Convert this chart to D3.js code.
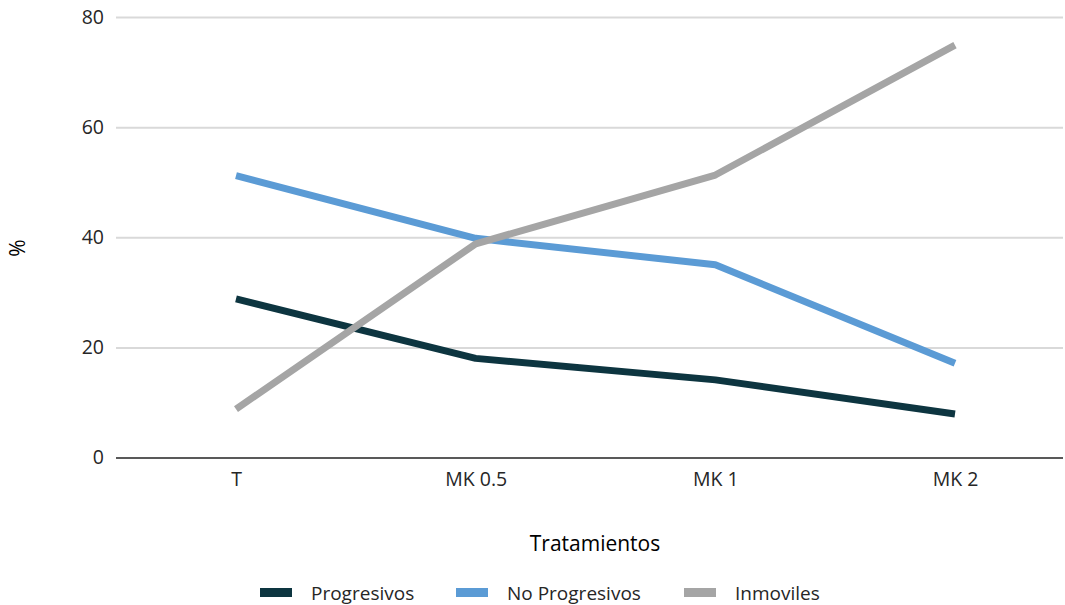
<!DOCTYPE html>
<html><head><meta charset="utf-8">
<script src="https://cdn.jsdelivr.net/npm/d3@7"></script>
<style>body{margin:0;background:#fff;} svg{display:block;}</style>
</head><body>
<script>
const categories = ["T", "MK 0.5", "MK 1", "MK 2"];
const progresivos = [28.8, 18.0, 14.1, 7.9];
const noProgresivos = [51.2, 39.8, 35.0, 17.1];
const inmoviles = [8.8, 38.8, 51.3, 74.9];
const yTicks = [0, 20, 40, 60, 80];
const seriesNames = ["Progresivos", "No Progresivos", "Inmoviles"];
const seriesColors = ["#0d3540", "#5b9bd5", "#a5a5a5"];
const seriesData = [progresivos, noProgresivos, inmoviles];

(function () {
const W = 1065, H = 605;
const svg = d3.select("body").append("svg").attr("width", W).attr("height", H);
const pLeft = 116, pRight = 1063, pTop = 17, pBottom = 457.5;

const x = d3.scalePoint().domain(categories).range([236, 955]);
const y = d3.scaleLinear().domain([0, 80]).range([pBottom, pTop]);
const font = "'Open Sans', sans-serif";

// gridlines
const yAxis = d3.axisLeft(y).tickValues(yTicks).tickSize(-(pRight - pLeft)).tickPadding(12);
const gy = svg.append("g").attr("transform", `translate(${pLeft},0)`).call(yAxis);
gy.select(".domain").remove();
gy.selectAll(".tick line").attr("stroke", "#d9d9d9").attr("stroke-width", 2);
gy.selectAll(".tick text").attr("font-family", font).attr("font-size", 19.5).attr("fill", "#262626");
gy.selectAll(".tick").filter(d => d === 0).select("line").attr("stroke", "#595959").attr("stroke-width", 2);

// x axis
const xAxis = d3.axisBottom(x).tickSize(0).tickPadding(15);
const gx = svg.append("g").attr("transform", `translate(0,${pBottom})`).call(xAxis);
gx.select(".domain").remove();
gx.selectAll(".tick text").attr("font-family", font).attr("font-size", 19.5).attr("fill", "#262626");

// lines
const line = d3.line().x((d, i) => x(categories[i])).y(d => y(d));
seriesData.forEach((s, k) => {
  svg.append("path").datum(s).attr("d", line).attr("fill", "none")
    .attr("stroke", seriesColors[k]).attr("stroke-width", 7).attr("stroke-linejoin", "round");
});

// axis titles
svg.append("text").attr("transform", "translate(25,248) rotate(-90)").attr("text-anchor", "middle")
  .attr("font-family", font).attr("font-size", 21).attr("fill", "#000").text("%");
svg.append("text").attr("x", 595).attr("y", 551).attr("text-anchor", "middle")
  .attr("font-family", font).attr("font-size", 21).attr("fill", "#000").text("Tratamientos");

// legend
const legendX = [260, 456, 684];
const lg = svg.append("g");
seriesNames.forEach((n, k) => {
  lg.append("rect").attr("x", legendX[k]).attr("y", 588).attr("width", 32).attr("height", 9).attr("fill", seriesColors[k]);
  lg.append("text").attr("x", legendX[k] + 51).attr("y", 600).attr("font-family", font).attr("font-size", 19)
    .attr("fill", "#262626").text(n);
});
})();
</script>
</body></html>
